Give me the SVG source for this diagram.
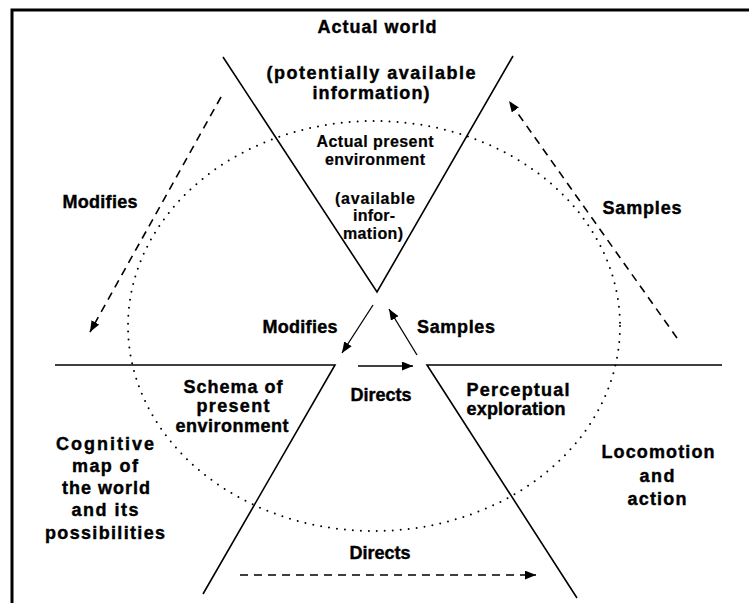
<svg xmlns="http://www.w3.org/2000/svg" width="749" height="603" viewBox="0 0 749 603">
  <defs>
    <style>
      .lbl { font-family: "Liberation Sans", Arial, sans-serif; font-weight: bold; font-size: 18px; fill: #000; stroke: #000; stroke-width: 0.4; text-anchor: middle; }
      .sm { font-size: 16px; stroke-width: 0.2; }
      .edge { fill: none; stroke: #000; stroke-width: 1.6; }
      .frame { fill: none; stroke: #000; stroke-width: 3; }
      .dash { fill: none; stroke: #000; stroke-width: 1.6; stroke-dasharray: 8 6; }
      .solid { fill: none; stroke: #000; stroke-width: 1.3; }
      .dots { fill: none; stroke: #000; stroke-width: 2; stroke-linecap: round; stroke-dasharray: 0 8; }
    </style>
    <marker id="head" viewBox="0 0 10 8" refX="10" refY="4" markerWidth="11" markerHeight="9" markerUnits="userSpaceOnUse" orient="auto">
      <path d="M0,0 L10,4 L0,8 Z" fill="#000"/>
    </marker>
  </defs>

  <rect width="749" height="603" fill="#fff"/>

  <!-- page frame -->
  <path class="frame" d="M12,603 L12,10 L749,10"/>

  <!-- perceptual cycle boundary -->
  <ellipse class="dots" cx="374" cy="326" rx="246" ry="205"/>

  <!-- actual world / present environment -->
  <g id="actual-world">
    <polyline class="edge" points="223,57 377,292 513,56"/>
    <text class="lbl" x="377" y="33" textLength="119" lengthAdjust="spacing">Actual world</text>
    <text class="lbl" x="371" y="79" textLength="209" lengthAdjust="spacing">(potentially available</text>
    <text class="lbl" x="371" y="99" textLength="117" lengthAdjust="spacing">information)</text>
    <text class="lbl sm" x="375" y="147" textLength="117" lengthAdjust="spacing">Actual present</text>
    <text class="lbl sm" x="375" y="165" textLength="100" lengthAdjust="spacing">environment</text>
    <text class="lbl sm" x="375" y="204" textLength="80" lengthAdjust="spacing">(available</text>
    <text class="lbl sm" x="374" y="221" textLength="42" lengthAdjust="spacing">infor-</text>
    <text class="lbl sm" x="373" y="239" textLength="60" lengthAdjust="spacing">mation)</text>
  </g>

  <!-- cognitive map / schema -->
  <g id="cognitive-map">
    <polyline class="edge" points="55,365 335,365 203,594"/>
    <text class="lbl" x="233" y="393" textLength="99" lengthAdjust="spacing">Schema of</text>
    <text class="lbl" x="233" y="412" textLength="73" lengthAdjust="spacing">present</text>
    <text class="lbl" x="232" y="432" textLength="113" lengthAdjust="spacing">environment</text>
    <text class="lbl" x="105" y="450" textLength="98" lengthAdjust="spacing">Cognitive</text>
    <text class="lbl" x="105" y="472" textLength="66" lengthAdjust="spacing">map of</text>
    <text class="lbl" x="106" y="494" textLength="88" lengthAdjust="spacing">the world</text>
    <text class="lbl" x="105" y="516" textLength="67" lengthAdjust="spacing">and its</text>
    <text class="lbl" x="105" y="539" textLength="120" lengthAdjust="spacing">possibilities</text>
  </g>

  <!-- locomotion / exploration -->
  <g id="locomotion">
    <polyline class="edge" points="722,365 427,365 577,598"/>
    <text class="lbl" x="518" y="396" textLength="103" lengthAdjust="spacing">Perceptual</text>
    <text class="lbl" x="516" y="415" textLength="99" lengthAdjust="spacing">exploration</text>
    <text class="lbl" x="658" y="458" textLength="113" lengthAdjust="spacing">Locomotion</text>
    <text class="lbl" x="657" y="482" textLength="35" lengthAdjust="spacing">and</text>
    <text class="lbl" x="657" y="505" textLength="59" lengthAdjust="spacing">action</text>
  </g>

  <!-- connectors -->
  <g id="connectors">
    <line class="dash" x1="221" y1="97" x2="90" y2="332" marker-end="url(#head)"/>
    <line class="dash" x1="677" y1="338" x2="509" y2="101" marker-end="url(#head)"/>
    <line class="dash" x1="240" y1="575" x2="536" y2="575" marker-end="url(#head)"/>
    <line class="solid" x1="373" y1="305" x2="342" y2="353" marker-end="url(#head)"/>
    <line class="solid" x1="417" y1="355" x2="389" y2="309" marker-end="url(#head)"/>
    <line class="solid" x1="358" y1="366" x2="413" y2="366" marker-end="url(#head)"/>
    <text class="lbl" x="100" y="208" textLength="75" lengthAdjust="spacing">Modifies</text>
    <text class="lbl" x="642" y="214" textLength="79" lengthAdjust="spacing">Samples</text>
    <text class="lbl" x="300" y="333" textLength="75" lengthAdjust="spacing">Modifies</text>
    <text class="lbl" x="456" y="333" textLength="78" lengthAdjust="spacing">Samples</text>
    <text class="lbl" x="381" y="401" textLength="61" lengthAdjust="spacing">Directs</text>
    <text class="lbl" x="380" y="559" textLength="61" lengthAdjust="spacing">Directs</text>
  </g>
</svg>
